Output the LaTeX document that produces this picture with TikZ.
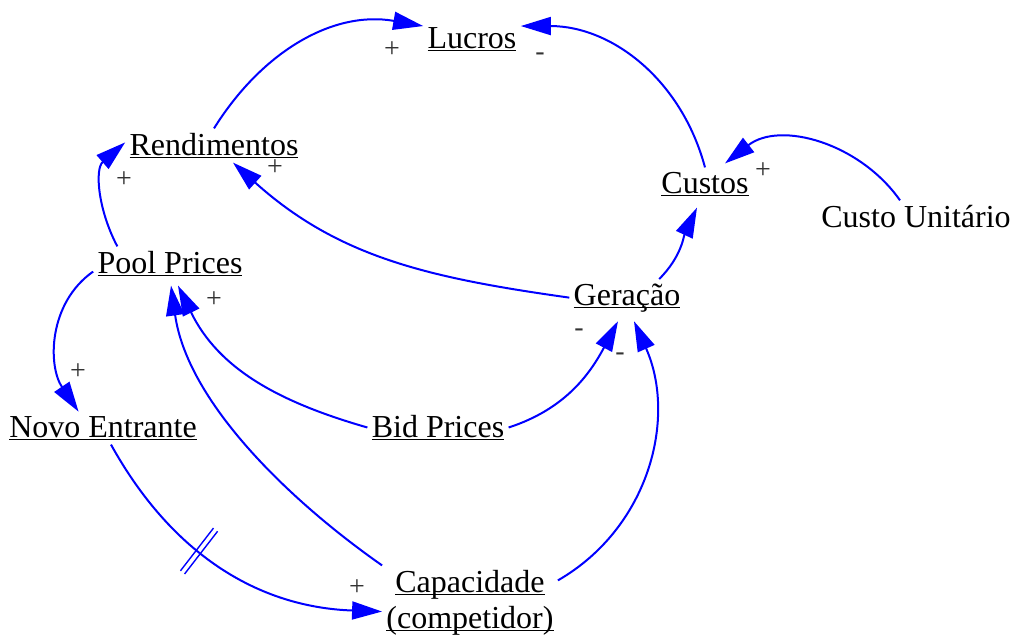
\documentclass[tikz,border=0pt]{standalone}
\usepackage{fontspec}
\setmainfont{Liberation Serif}
\usepackage{xcolor}
\usetikzlibrary{arrows.meta, decorations.markings}
\definecolor{linkColor}{HTML}{0000FF}
\newcommand{\ulvar}[1]{\setbox0\hbox{#1}\rlap{\rule[-1.6pt]{\wd0}{0.7pt}}\box0}

\begin{document}
\begin{tikzpicture}[x=0.5pt, y=-0.5pt,
    var/.style={font=\fontsize{16}{18}\selectfont, inner sep=2pt, anchor=base, align=center},
    sign/.style={font=\fontsize{14}{16}\selectfont, inner sep=0pt, text=black!80},
    link/.style={draw=linkColor, line width=1pt, -{Triangle[length=15pt, width=9pt]}},
    delay/.style={postaction={decorate, decoration={markings, mark=at position 0.415 with {
        \draw[arrows=-, linkColor, line width=0.7pt] (-1.3pt,-13.5pt) -- (-1.3pt,13.5pt);
        \draw[arrows=-, linkColor, line width=0.7pt] (1.3pt,-13.5pt) -- (1.3pt,13.5pt);}}}}]
    \useasboundingbox (0,0) rectangle (1013,637);

    \node[var] (lucros) at (472,48) {\ulvar{Lucros}};
    \node[var] (rend) at (214,155) {\ulvar{Rendimentos}};
    \node[var] (custos) at (705,193) {\ulvar{Custos}};
    \node[var] (custou) at (916,227) {Custo Unitário};
    \node[var] (pool) at (170,273) {\ulvar{Pool Prices}};
    \node[var] (gera) at (627,305) {\ulvar{Geração}};
    \node[var] (novo) at (103,437) {\ulvar{Novo Entrante}};
    \node[var] (bid) at (438,437) {\ulvar{Bid Prices}};
    \node[var] (capa) at (470,628) {\ulvar{Capacidade}\\\ulvar{(competidor)}};

    \draw[link] (rend.north) to[out=58, in=170] (lucros.165);
    \draw[link] (custos.north) to[out=105, in=0] (lucros.15);
    \draw[link] ([xshift=-8pt]custou.north) to[out=125, in=38] ([xshift=10pt, yshift=2pt]custos.north);
    \draw[link] (gera.30) to[out=45, in=245] ([xshift=-4pt, yshift=-3.5pt]custos.south);
    \draw[link] (gera.west) to[out=172, in=318] (rend);
    \draw[link] (pool.162) to[out=118, in=221] (rend.178);
    \draw[link] (pool.186) to[out=215, in=124] (novo.146);
    \draw[link] (bid.west) to[out=164, in=296] ([xshift=4pt, yshift=-2.5pt]pool.south);
    \draw[link] (capa.north west) to[out=145, in=278, looseness=0.85] ([xshift=0.5pt, yshift=-2.5pt]pool.south);
    \draw[link] (bid.east) to[out=18, in=242] ([xshift=-4.5pt, yshift=-2.5pt]gera.south);
    \draw[link] (capa.14) to[out=30, in=294] ([xshift=3.5pt, yshift=-2.5pt]gera.south);
    \draw[link, delay] ([xshift=4pt]novo.south) to[out=-61, in=178] (capa.186);

    \node[sign] (sRendLucros) at (392,50) {+};
    \node[sign] (sCustosLucros) at (540,57) {-};
    \node[sign] (sUnitCustos) at (763,171) {+};
    \node[sign] (sGeraRend) at (275,168) {+};
    \node[sign] (sPoolRend) at (124,180) {+};
    \node[sign] (sBidPool) at (214,300) {+};
    \node[sign] (sPoolNovo) at (78,372) {+};
    \node[sign] (sBidGera) at (579,333) {-};
    \node[sign] (sCapaGera) at (620,357) {-};
    \node[sign] (sNovoCapa) at (357,588) {+};
\end{tikzpicture}
\end{document}
